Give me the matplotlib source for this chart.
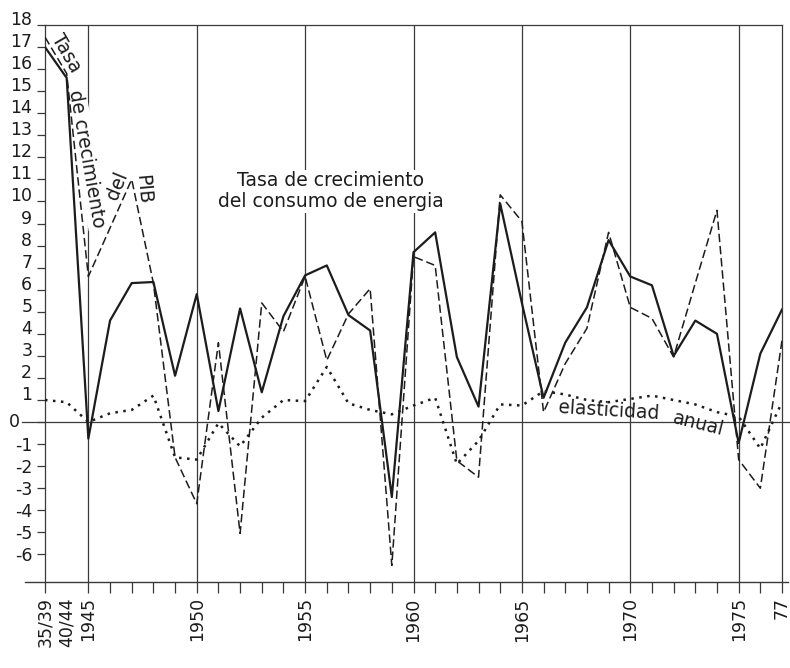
#Crecimiento del PIB, consumo de energia y elasticidad anual (1935-1977)
import matplotlib
matplotlib.use('Agg')
import matplotlib.pyplot as plt
import numpy as np

# periodos del eje x: dos medias de preguerra y luego cada ano
periods = ['35/39', '40/44'] + [str(y) for y in range(1945, 1978)]

# tasa de crecimiento del consumo de energia (linea continua)
energia = [17.0, 15.6, -0.75, 4.6, 6.3, 6.35, 2.1, 5.8, 0.5, 5.15,
           1.35, 4.8, 6.65, 7.1, 4.85, 4.15, -3.4, 7.7, 8.6, 2.95,
           0.7, 9.9, 5.4, 1.1, 3.6, 5.2, 8.25, 6.6, 6.2, 3.0,
           4.6, 4.0, -0.95, 3.1, 5.1]

# tasa de crecimiento del PIB (linea de trazos)
pib = [17.45, 15.8, 6.6, 8.8, 11.0, 6.3, -1.6, -3.7, 3.6, -5.05,
       5.4, 4.1, 6.6, 2.8, 4.9, 6.05, -6.5, 7.5, 7.1, -1.75,
       -2.5, 10.3, 9.1, 0.45, 2.65, 4.25, 8.6, 5.2, 4.7, 2.95,
       6.3, 9.6, -1.7, -3.0, 3.7]

# elasticidad anual (linea de puntos)
elasticidad = [1.0, 0.9, 0.0, 0.4, 0.55, 1.2, -1.6, -1.7, -0.05, -1.1,
               0.2, 1.0, 0.95, 2.5, 0.85, 0.55, 0.35, 0.75, 1.1, -1.9,
               -0.85, 0.8, 0.75, 1.4, 1.25, 1.0, 0.9, 1.05, 1.2, 1.0,
               0.8, 0.45, 0.25, -1.2, 0.9]

yTicks = list(range(-6, 19))
majorYears = ['35/39', '40/44', '1945', '1950', '1955', '1960', '1965', '1970', '1975', '1977']
gridYears = ['1945', '1950', '1955', '1960', '1965', '1970', '1975']

INK = '#1c1c1c'
GRID = '#3a3a3a'


def main():
    fig = plt.figure(figsize=(7.9, 6.68), dpi=100)
    ax = fig.add_axes([45/790, 86/668, 737/790, 557/668])
    pos = np.arange(len(periods))

    ax.set_xlim(0, len(periods) - 1)
    ax.set_ylim(-7.25, 18)

    setupAxes(ax, pos)

    ax.plot(pos, energia, color=INK, lw=1.6, zorder=3)
    ax.plot(pos, pib, color=INK, lw=1.1, linestyle=(0, (5.5, 2.5)), zorder=3)
    ax.plot(pos, elasticidad, color=INK, lw=1.8, linestyle=(0, (1, 2.2)), zorder=3)

    addLabels(ax)

    fig.savefig('out.png', dpi=100, facecolor='white')


def setupAxes(ax, pos):
    for side in ['left', 'top', 'right']:
        ax.spines[side].set_color(GRID)
        ax.spines[side].set_linewidth(0.9)
    ax.spines['bottom'].set_visible(False)

    # eje inferior y linea del cero, algo mas largos que el marco
    ax.plot([-0.027, 1.008], [0, 0], transform=ax.transAxes, color=GRID,
            lw=1.0, clip_on=False, zorder=2)
    ax.axhline(0, xmin=-0.031, xmax=1.011, color=GRID, lw=0.9, clip_on=False, zorder=2)

    for year in gridYears:
        ax.axvline(periods.index(year), color=GRID, lw=0.9, zorder=1)

    # eje y
    ax.set_yticks(yTicks)
    ax.set_yticklabels(['' if v == 0 else str(v) for v in yTicks])
    ax.tick_params(axis='y', direction='out', length=5.8, width=0.9, color=GRID,
                   pad=3.4, labelsize=12.5, labelcolor=INK)
    for v, lab in zip(yTicks, ax.get_yticklabels()):
        if v > 0:
            lab.set_verticalalignment('baseline')
    ax.text(-0.034, 0, '0', transform=ax.get_yaxis_transform(), ha='right',
            va='center', fontsize=12.5, color=INK)

    # eje x
    majorPos = [periods.index(p) for p in majorYears]
    majorLab = [p if p != '1977' else '77' for p in majorYears]
    ax.set_xticks(majorPos)
    ax.set_xticklabels(majorLab, rotation=90)
    ax.set_xticks([p for p in pos if p not in majorPos and p > 1], minor=True)
    ax.tick_params(axis='x', which='both', direction='out', length=8, width=0.9,
                   color=GRID, pad=3, labelsize=12.5, labelcolor=INK)
    ax.xaxis.get_major_ticks()[1].tick1line.set_visible(False)


def toData(px, py):
    # posicion en pixeles de la imagen -> coordenadas de datos
    return (px - 45) / 21.68, (422 - py) / 22.06


def addLabels(ax):
    box = dict(facecolor='white', edgecolor='none', pad=1.0)
    size = 13.5

    x, y = toData(66, 53)
    ax.text(x, y, 'Tasa', rotation=-60, ha='center', va='center', fontsize=size,
            color=INK, rotation_mode='anchor', zorder=2.5)
    x, y = toData(87, 159)
    ax.text(x, y, 'de crecimiento', rotation=-80, ha='center', va='center',
            fontsize=size, color=INK, rotation_mode='anchor', bbox=box, zorder=2.5)
    x, y = toData(117, 186)
    ax.text(x, y, 'del', rotation=68, ha='center', va='center', fontsize=size,
            color=INK, rotation_mode='anchor', zorder=2.5)
    x, y = toData(143, 189)
    ax.text(x, y, 'PIB', rotation=-85, ha='center', va='center', fontsize=size,
            color=INK, rotation_mode='anchor', zorder=2.5)

    x, y = toData(331, 191)
    ax.text(x, y, 'Tasa de crecimiento\ndel consumo de energia', ha='center',
            va='center', fontsize=size, color=INK, linespacing=1.15,
            bbox=box, zorder=2.5)

    x, y = toData(609, 411)
    ax.text(x, y, 'elasticidad', rotation=-3.5, ha='center', va='center',
            fontsize=size, color=INK, rotation_mode='anchor', zorder=2.5)
    x, y = toData(698, 424)
    ax.text(x, y, 'anual', rotation=-14, ha='center', va='center',
            fontsize=size, color=INK, rotation_mode='anchor', zorder=2.5)


if __name__ == "__main__":
    main()
